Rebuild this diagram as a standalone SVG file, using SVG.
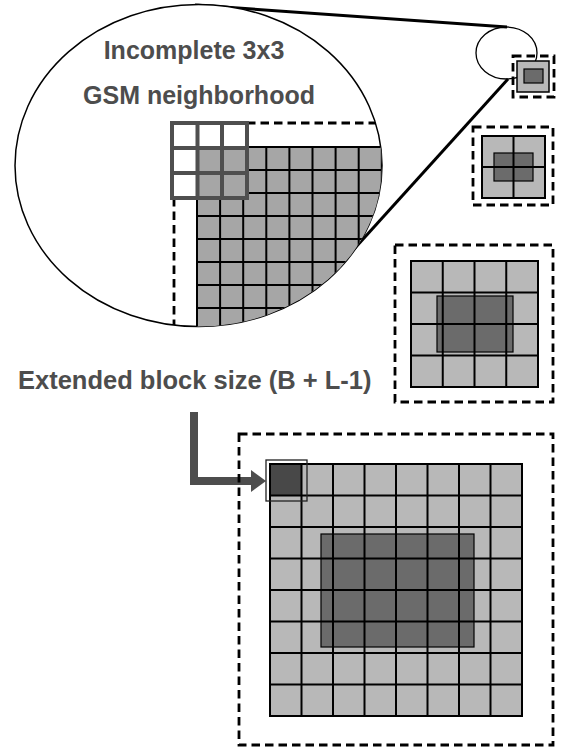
<svg xmlns="http://www.w3.org/2000/svg" width="561" height="752" viewBox="0 0 561 752">
<style>
.lbl{font-family:"Liberation Sans",Arial,sans-serif;font-weight:bold;font-size:25px;fill:#4d4d4d}
.dash{fill:none;stroke:#000;stroke-width:2.8;stroke-dasharray:8.5 5}
.grid{fill:none;stroke:#000;stroke-width:2}
.lt{fill:#b8b8b8}
.dk{fill:#6b6b6b;stroke:#000;stroke-width:1.2}
.conn{fill:none;stroke:#000;stroke-width:3}
</style>
<defs>
<clipPath id="ec"><ellipse cx="198.5" cy="165.5" rx="183.5" ry="161"/></clipPath>
</defs>
<rect width="561" height="752" fill="#fff"/>

<g id="connectors">
<line class="conn" x1="195" y1="5" x2="507" y2="27"/>
<line class="conn" x1="336" y1="269" x2="508" y2="79"/>
<path d="M194,412 V481 H252" fill="none" stroke="#4d4d4d" stroke-width="8"/>
<polygon points="251,470 266,481 251,492" fill="#4d4d4d"/>
</g>

<g id="zoom-ellipse">
<ellipse cx="198.5" cy="165.5" rx="183.5" ry="161" fill="#fff" stroke="#000" stroke-width="1.5"/>
<g clip-path="url(#ec)">
<rect x="197" y="147" width="220" height="200" fill="#a6a6a6"/>
<path class="grid" d="M197,147V340M220.1,147V340M243.2,147V340M266.3,147V340M289.4,147V340M312.5,147V340M335.6,147V340M358.7,147V340M381.8,147V340M197,147H400M197,170H400M197,193H400M197,216H400M197,239H400M197,262H400M197,285H400M197,308H400M197,331H400"/>
<path class="dash" d="M247,123H400M174,198V340"/>
</g>
<rect x="172" y="123" width="75" height="25" fill="#fff"/>
<rect x="172" y="148" width="25" height="50" fill="#fff"/>
<rect x="197" y="148" width="50" height="50" fill="#a6a6a6"/>
<path d="M172,123H247V198H172ZM197.5,123V198M222,123V198M172,148H247M172,173H247" fill="none" stroke="#4f4f4f" stroke-width="4"/>
<text class="lbl" x="194" y="59" text-anchor="middle">Incomplete 3x3</text>
<text class="lbl" x="199" y="104" text-anchor="middle">GSM neighborhood</text>
</g>

<g id="small-ellipse">
<ellipse cx="506.5" cy="53" rx="30.5" ry="26" fill="none" stroke="#000" stroke-width="1.3"/>
</g>

<g id="block1">
<rect class="dash" x="513" y="56" width="41" height="41"/>
<rect class="lt" x="517" y="61" width="32" height="31" stroke="#000" stroke-width="1.5"/>
<rect class="dk" x="524" y="69" width="19" height="14"/>
</g>

<g id="block2">
<rect class="dash" x="473" y="127" width="80" height="78"/>
<rect class="lt" x="482" y="136" width="63" height="62"/>
<rect class="dk" x="494" y="153" width="39" height="28"/>
<path class="grid" d="M482,136H545V198H482ZM513.5,136V198M482,167H545"/>
</g>

<g id="block3">
<rect class="dash" x="395" y="245" width="158" height="157"/>
<rect class="lt" x="411" y="261" width="127" height="126"/>
<rect x="437" y="296" width="76" height="56" fill="#6b6b6b"/>
<path class="grid" d="M411,261H538V387H411ZM442.75,261V387M474.5,261V387M506.25,261V387M411,292.5H538M411,324H538M411,355.5H538"/>
<rect x="437" y="296" width="76" height="56" fill="none" stroke="#000" stroke-width="1.2"/>
</g>

<g id="block4">
<rect class="dash" x="239" y="434" width="314" height="311"/>
<rect class="lt" x="270" y="464" width="252" height="252"/>
<rect x="321" y="534" width="153" height="113" fill="#6b6b6b"/>
<rect x="270" y="464" width="31.5" height="31.5" fill="#484848"/>
<path class="grid" d="M270,464H522V716H270ZM301.5,464V716M333,464V716M364.5,464V716M396,464V716M427.5,464V716M459,464V716M490.5,464V716M270,495.5H522M270,527H522M270,558.5H522M270,590H522M270,621.5H522M270,653H522M270,684.5H522"/>
<rect x="321" y="534" width="153" height="113" fill="none" stroke="#000" stroke-width="1.2"/>
<rect x="266" y="460" width="41" height="41" fill="none" stroke="#222" stroke-width="1.3"/>
</g>

<g id="label-extended">
<text class="lbl" x="18" y="389" style="font-size:25.5px">Extended block size (B + L-1)</text>
</g>
</svg>
